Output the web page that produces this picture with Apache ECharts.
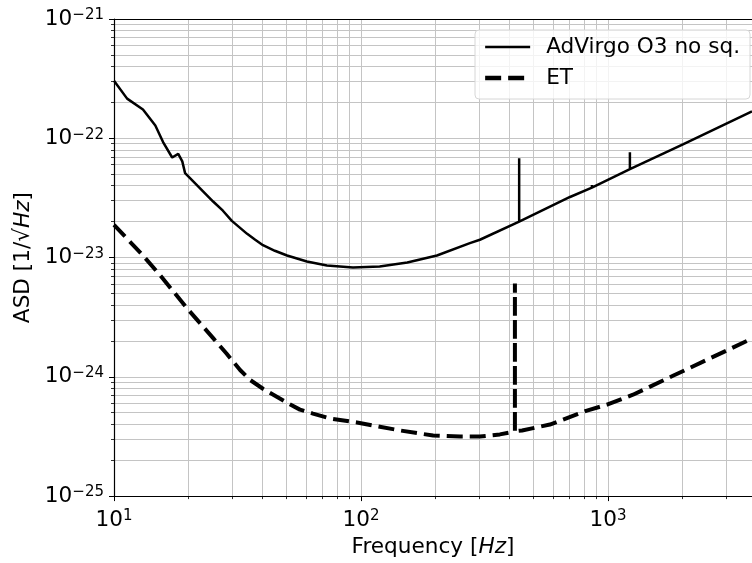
<!DOCTYPE html>
<html>
<head>
<meta charset="utf-8">
<script src="https://cdn.jsdelivr.net/npm/echarts@6/dist/echarts.min.js"></script>
<style>
html, body { margin: 0; padding: 0; background: #fff; }
#chart { width: 752px; height: 563px; }
</style>
</head>
<body>
<div id="chart"></div>
<script>
// AdVirgo O3 (no squeezing) noise curve
const virgoFreq = [10, 11.3, 13.1, 14.7, 15.8, 17.2, 18.2, 18.9, 19.4, 25.2, 27.6, 30.0, 34.6, 37.3, 40.1, 44.8, 50.2, 60.4, 72.8, 92.8, 119, 154, 203, 276, 303, 437, 437, 437, 702, 861, 861, 861, 1227, 1227, 1227, 2012, 3830];
const virgoAsd = [3.04e-22, 2.15e-22, 1.74e-22, 1.28e-22, 9.3e-23, 6.9e-23, 7.4e-23, 6.4e-23, 5.1e-23, 2.95e-23, 2.47e-23, 2.03e-23, 1.58e-23, 1.41e-23, 1.27e-23, 1.14e-23, 1.04e-23, 9.26e-24, 8.58e-24, 8.25e-24, 8.41e-24, 9.09e-24, 1.04e-23, 1.32e-23, 1.41e-23, 2.0e-23, 6.8e-23, 2.0e-23, 3.22e-23, 3.85e-23, 4.05e-23, 3.85e-23, 5.52e-23, 7.64e-23, 5.52e-23, 8.9e-23, 1.68e-22];

// ET curve
const etFreq = [10, 13.1, 15.4, 19.75, 25.2, 28.6, 32.4, 35.5, 40.1, 50.2, 56.6, 63.9, 75, 96.3, 144, 196, 252, 303, 365, 401, 420, 420, 420, 449, 582, 822, 991, 1263, 1833, 3654, 3830];
const etAsd = [1.88e-23, 1.04e-23, 7.08e-24, 3.76e-24, 2.11e-24, 1.56e-24, 1.14e-24, 9.44e-25, 7.94e-25, 6.07e-25, 5.31e-25, 4.92e-25, 4.47e-25, 4.14e-25, 3.55e-25, 3.22e-25, 3.16e-25, 3.16e-25, 3.29e-25, 3.42e-25, 3.5e-25, 6.07e-24, 3.5e-25, 3.55e-25, 3.98e-25, 5.21e-25, 5.85e-25, 7.08e-25, 1.02e-24, 2.0e-24, 2.1e-24];

// tick positions (x in Hz, y as decade exponents)
const xMajor = [10, 100, 1000];
const xMinor = [20, 30, 40, 50, 60, 70, 80, 90, 200, 300, 400, 500, 600, 700, 800, 900, 2000, 3000];
const yMajor = [-25, -24, -23, -22, -21];
const yMinor = [];
[-25, -24, -23, -22].forEach(e => {
    for (let k = 2; k <= 9; k++) yMinor.push(e + Math.log10(k));
});

const FONT = "DejaVu Sans";
const FS = 21.6;
const gridColor = "#c4c4c4";

function sup(e) {
    return "{b|10}{s|" + (e < 0 ? "\u2212" + -e : e) + "}";
}
const supRich = {
    b: { fontSize: FS, fontFamily: FONT, color: "#000", lineHeight: 22 },
    s: { fontSize: 15, fontFamily: FONT, color: "#000", verticalAlign: "top", lineHeight: 22 }
};
const nameStyle = {
    fontFamily: FONT, fontSize: FS, color: "#000",
    rich: { i: { fontFamily: FONT, fontSize: FS, fontStyle: "italic", color: "#000" } }
};

// x: real log axis; y: log10 of the ASD on a value axis
const xRange = { type: "log", logBase: 10, min: 10, max: 3830 };
const yRange = { type: "value", min: -25, max: -21 };

const chart = echarts.init(document.getElementById("chart"));
const option = {
    animation: false,
    grid: { left: 114, right: 0, top: 19, bottom: 64 },
    legend: {
        orient: "vertical",
        left: 475,
        top: 30,
        padding: [6, 10, 10, 8],
        itemWidth: 45,
        itemHeight: 22,
        itemGap: 9,
        backgroundColor: "rgba(255,255,255,0.8)",
        borderColor: "#d6d6d6",
        borderWidth: 1,
        borderRadius: 4,
        itemStyle: { color: "rgba(0,0,0,0)", borderWidth: 0, opacity: 0 },
        textStyle: { fontFamily: FONT, fontSize: FS, color: "#000", padding: [0, 0, 0, 11] },
        data: [
            { name: "AdVirgo O3 no sq.", lineStyle: { color: "#000", width: 2.7, type: "solid" } },
            { name: "ET", lineStyle: { color: "#000", width: 4.3, type: [16, 7], cap: "butt" } }
        ]
    },
    xAxis: [
        Object.assign({}, xRange, {
            position: "bottom",
            name: "Frequency [{i|Hz}]",
            nameLocation: "middle",
            nameGap: 38,
            nameTextStyle: nameStyle,
            axisLine: { show: true, lineStyle: { color: "#000", width: 1.2 } },
            axisTick: { show: true, customValues: xMajor, length: 5, lineStyle: { color: "#000", width: 1 } },
            axisLabel: { customValues: xMajor, margin: 13, formatter: v => sup(Math.round(Math.log10(v))), rich: supRich },
            splitLine: { show: true, customValues: xMajor, lineStyle: { color: gridColor, width: 1 } }
        }),
        Object.assign({}, xRange, {
            position: "bottom",
            axisLine: { show: false },
            axisTick: { show: true, customValues: xMinor, length: 3, lineStyle: { color: "#000", width: 0.8 } },
            axisLabel: { show: false },
            splitLine: { show: true, customValues: xMinor, lineStyle: { color: gridColor, width: 1 } }
        }),
        Object.assign({}, xRange, {
            position: "top",
            axisLine: { show: true, lineStyle: { color: "#000", width: 1.2 } },
            axisTick: { show: false },
            axisLabel: { show: false },
            splitLine: { show: false }
        })
    ],
    yAxis: [
        Object.assign({}, yRange, {
            position: "left",
            name: "ASD [1/\u221a{i|Hz}]",
            nameLocation: "middle",
            nameGap: 78,
            nameTextStyle: nameStyle,
            axisLine: { show: true, lineStyle: { color: "#000", width: 1.2 } },
            axisTick: { show: true, customValues: yMajor, length: 5, lineStyle: { color: "#000", width: 1 } },
            axisLabel: { customValues: yMajor, margin: 10, formatter: v => sup(Math.round(v)), rich: supRich },
            splitLine: { show: true, customValues: yMajor, lineStyle: { color: gridColor, width: 1 } }
        }),
        Object.assign({}, yRange, {
            position: "left",
            axisLine: { show: false },
            axisTick: { show: true, customValues: yMinor, length: 3, lineStyle: { color: "#000", width: 0.8 } },
            axisLabel: { show: false },
            splitLine: { show: true, customValues: yMinor, lineStyle: { color: gridColor, width: 1 } }
        })
    ],
    series: [
        {
            name: "AdVirgo O3 no sq.",
            type: "line",
            xAxisIndex: 0,
            yAxisIndex: 0,
            symbol: "none",
            showSymbol: false,
            color: "#000",
            lineStyle: { color: "#000", width: 2.5 },
            data: virgoFreq.map((f, i) => [f, Math.log10(virgoAsd[i])])
        },
        {
            name: "ET",
            type: "line",
            xAxisIndex: 0,
            yAxisIndex: 0,
            symbol: "none",
            showSymbol: false,
            color: "#000",
            lineStyle: { color: "#000", width: 4, type: [16, 7], cap: "butt" },
            data: etFreq.map((f, i) => [f, Math.log10(etAsd[i])])
        }
    ]
};
chart.setOption(option);
</script>
</body>
</html>
